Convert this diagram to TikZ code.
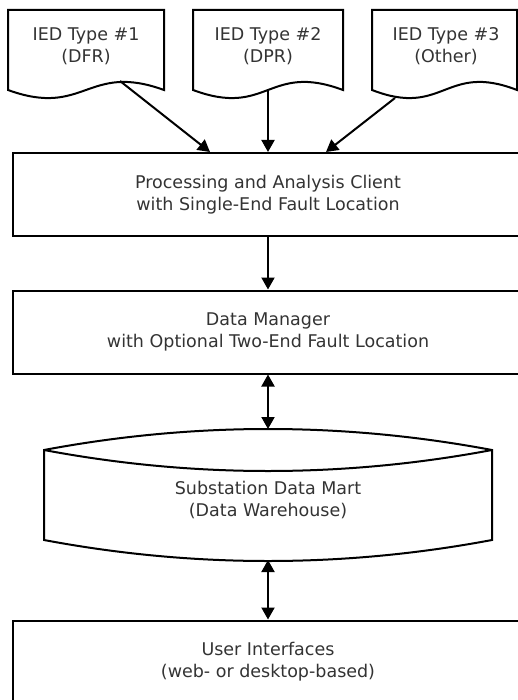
\documentclass[tikz,border=0pt]{standalone}
\usepackage{fontspec}
\setmainfont{DejaVu Sans}
\usetikzlibrary{arrows.meta}
\begin{document}
\begin{tikzpicture}[x=1pt, y=-1pt, line width=2pt,
  every node/.style={text=black!80, font=\fontsize{17.5}{22}\selectfont, align=center},
  box/.style={draw=black, minimum width=510pt, minimum height=83pt},
  flow/.style={-{Triangle[length=12pt,width=13pt]}},
  both/.style={{Triangle[length=12pt,width=13pt]}-{Triangle[length=12pt,width=13pt]}}]
  \clip (0,0) rectangle (518,700);
  % data sources
  \node (doc1) at (86,46) {IED Type \#1\\(DFR)};
  \node (doc2) at (268,46) {IED Type \#2\\(DPR)};
  \node (doc3) at (446,46) {IED Type \#3\\(Other)};
  \draw (8,10) -- (164,10) -- (164,90) .. controls (87,62) and (85,118) .. (8,90) -- cycle;
  \draw (193,10) -- (343,10) -- (343,90) .. controls (268,62) and (268,118) .. (193,90) -- cycle;
  \draw (372,10) -- (517,10) -- (517,90) .. controls (445,62) and (444,118) .. (372,90) -- cycle;
  \coordinate (out1) at (120,81);
  \coordinate (out2) at (268,91);
  \coordinate (out3) at (395,98);
  % processing chain
  \node[box] (client) at (268,194.5) {Processing and Analysis Client\\with Single-End Fault Location};
  \node[box] (manager) at (268,332) {Data Manager\\with Optional Two-End Fault Location};
  \node (mart) at (268,500) {Substation Data Mart\\(Data Warehouse)};
  \draw (44,450) .. controls (193,422) and (343,422) .. (492,450) -- (492,540)
    .. controls (343,568) and (193,568) .. (44,540) -- cycle;
  \draw (44,450) .. controls (193,478) and (343,478) .. (492,450);
  \coordinate (martTop) at (268,429);
  \coordinate (martBot) at (268,560);
  \node[box] (ui) at (268,662) {User Interfaces\\(web- or desktop-based)};
  % connectors
  \draw[flow] (out1) -- ([xshift=-58pt]client.north);
  \draw[flow] (out2) -- (client.north);
  \draw[flow] (out3) -- ([xshift=58pt]client.north);
  \draw[flow] (client) -- (manager);
  \draw[both] (manager) -- (martTop);
  \draw[both] (martBot) -- (ui);
\end{tikzpicture}
\end{document}
